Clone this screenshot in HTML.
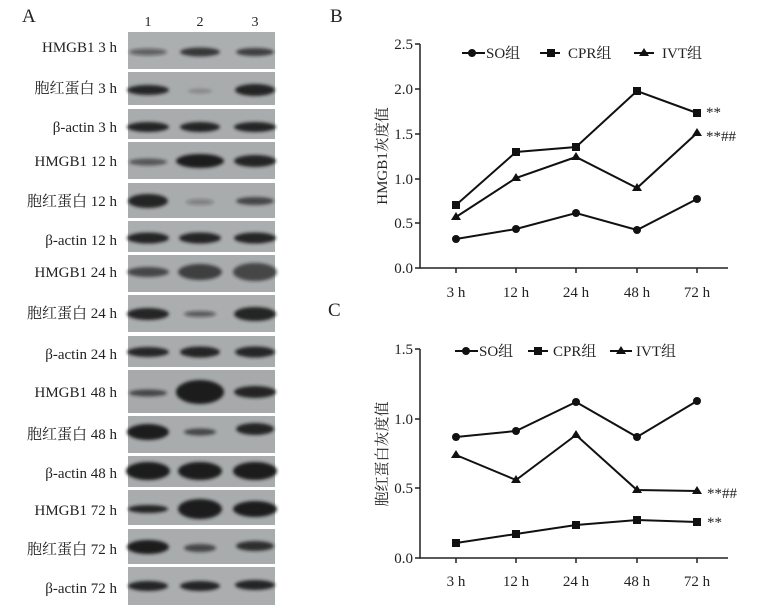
<!DOCTYPE html>
<html><head><meta charset="utf-8"><style>
body{margin:0;background:#fff}
svg{display:block}
text{font-family:"Liberation Serif","Noto Serif CJK SC",serif;fill:#222}
</style></head><body>
<svg width="768" height="612" viewBox="0 0 768 612" xmlns="http://www.w3.org/2000/svg">
<defs><filter id="bl"><feGaussianBlur stdDeviation="1.5"/></filter></defs>
<text x="22" y="22" font-size="19">A</text>
<text x="148" y="26" font-size="14" text-anchor="middle">1</text>
<text x="200" y="26" font-size="14" text-anchor="middle">2</text>
<text x="255" y="26" font-size="14" text-anchor="middle">3</text>
<g font-size="15" text-anchor="end">
<rect x="128" y="32" width="147" height="37" fill="#acafb0"/>
<text x="117" y="52">HMGB1 3 h</text>
<rect x="128" y="72" width="147" height="33" fill="#a9acad"/>
<text x="117" y="93">胞红蛋白 3 h</text>
<rect x="128" y="109" width="147" height="30" fill="#a9acad"/>
<text x="117" y="132">β-actin 3 h</text>
<rect x="128" y="142" width="147" height="37" fill="#a9acad"/>
<text x="117" y="166">HMGB1 12 h</text>
<rect x="128" y="183" width="147" height="35" fill="#a9acad"/>
<text x="117" y="206">胞红蛋白 12 h</text>
<rect x="128" y="221" width="147" height="31" fill="#abaeaf"/>
<text x="117" y="245">β-actin 12 h</text>
<rect x="128" y="255" width="147" height="37" fill="#a9acad"/>
<text x="117" y="277">HMGB1 24 h</text>
<rect x="128" y="295" width="147" height="37" fill="#abaeaf"/>
<text x="117" y="318">胞红蛋白 24 h</text>
<rect x="128" y="336" width="147" height="31" fill="#a9acad"/>
<text x="117" y="359">β-actin 24 h</text>
<rect x="128" y="370" width="147" height="43" fill="#a7aaab"/>
<text x="117" y="397">HMGB1 48 h</text>
<rect x="128" y="416" width="147" height="37" fill="#a9acad"/>
<text x="117" y="439">胞红蛋白 48 h</text>
<rect x="128" y="456" width="147" height="31" fill="#a9acad"/>
<text x="117" y="478">β-actin 48 h</text>
<rect x="128" y="490" width="147" height="35" fill="#a9acad"/>
<text x="117" y="515">HMGB1 72 h</text>
<rect x="128" y="529" width="147" height="35" fill="#a9acad"/>
<text x="117" y="554">胞红蛋白 72 h</text>
<rect x="128" y="567" width="147" height="38" fill="#abaeaf"/>
<text x="117" y="593">β-actin 72 h</text>
</g>
<g fill="#1a1a1a" filter="url(#bl)">
<ellipse cx="148" cy="52" rx="19" ry="3.5" opacity=".5"/><ellipse cx="200" cy="52" rx="20" ry="4.5" opacity=".8"/><ellipse cx="255" cy="52" rx="19" ry="4" opacity=".75"/>
<ellipse cx="148" cy="90" rx="21" ry="5" opacity=".9"/><ellipse cx="200" cy="91" rx="12" ry="2.5" opacity=".2"/><ellipse cx="255" cy="90" rx="20" ry="6" opacity=".95"/>
<ellipse cx="148" cy="127" rx="21" ry="5" opacity=".95"/><ellipse cx="200" cy="127" rx="20" ry="5" opacity=".95"/><ellipse cx="255" cy="127" rx="21" ry="5" opacity=".95"/>
<ellipse cx="148" cy="162" rx="19" ry="3.5" opacity=".6"/><ellipse cx="200" cy="161" rx="24" ry="7" opacity="1"/><ellipse cx="255" cy="161" rx="21" ry="6" opacity=".95"/>
<ellipse cx="148" cy="201" rx="20" ry="7" opacity=".95"/><ellipse cx="200" cy="202" rx="14" ry="3" opacity=".3"/><ellipse cx="255" cy="201" rx="19" ry="4" opacity=".7"/>
<ellipse cx="148" cy="238" rx="21" ry="5.5" opacity=".95"/><ellipse cx="200" cy="238" rx="21" ry="5.5" opacity=".95"/><ellipse cx="255" cy="238" rx="21" ry="5.5" opacity=".95"/>
<ellipse cx="148" cy="272" rx="21" ry="5" opacity=".7"/><ellipse cx="200" cy="272" rx="22" ry="8" opacity=".75"/><ellipse cx="255" cy="272" rx="22" ry="9" opacity=".7"/>
<ellipse cx="148" cy="314" rx="21" ry="6" opacity=".95"/><ellipse cx="200" cy="314" rx="16" ry="3" opacity=".55"/><ellipse cx="255" cy="314" rx="21" ry="7" opacity=".95"/>
<ellipse cx="148" cy="352" rx="21" ry="5" opacity=".9"/><ellipse cx="200" cy="352" rx="20" ry="5.5" opacity=".95"/><ellipse cx="255" cy="352" rx="20" ry="5.5" opacity=".9"/>
<ellipse cx="148" cy="393" rx="19" ry="3.5" opacity=".7"/><ellipse cx="200" cy="392" rx="24" ry="12" opacity="1"/><ellipse cx="255" cy="392" rx="21" ry="6" opacity=".95"/>
<ellipse cx="148" cy="432" rx="21" ry="8" opacity="1"/><ellipse cx="200" cy="432" rx="16" ry="3.5" opacity=".7"/><ellipse cx="255" cy="429" rx="19" ry="6" opacity=".95"/>
<ellipse cx="148" cy="471" rx="22" ry="9" opacity="1"/><ellipse cx="200" cy="471" rx="22" ry="9" opacity="1"/><ellipse cx="255" cy="471" rx="22" ry="9" opacity="1"/>
<ellipse cx="148" cy="509" rx="20" ry="4" opacity=".95"/><ellipse cx="200" cy="509" rx="22" ry="10" opacity="1"/><ellipse cx="255" cy="509" rx="22" ry="8" opacity="1"/>
<ellipse cx="148" cy="547" rx="21" ry="7" opacity="1"/><ellipse cx="200" cy="548" rx="16" ry="4" opacity=".7"/><ellipse cx="255" cy="546" rx="19" ry="5" opacity=".85"/>
<ellipse cx="148" cy="586" rx="20" ry="5" opacity=".95"/><ellipse cx="200" cy="586" rx="20" ry="5" opacity=".95"/><ellipse cx="255" cy="585" rx="20" ry="5" opacity=".95"/>
</g>

<!-- Chart B -->
<text x="330" y="22" font-size="19">B</text>
<g stroke="#222" stroke-width="1.5" fill="none">
<path d="M420 44V268H728"/>
<path d="M415 44H420M415 89H420M415 134H420M415 179H420M415 223H420M415 268H420"/>
<path d="M456 268V273M516 268V273M576 268V273M637 268V273M697 268V273"/>
</g>
<g font-size="15" text-anchor="end">
<text x="413" y="49">2.5</text><text x="413" y="94">2.0</text><text x="413" y="139">1.5</text><text x="413" y="184">1.0</text><text x="413" y="228">0.5</text><text x="413" y="273">0.0</text>
</g>
<g font-size="15" text-anchor="middle">
<text x="456" y="297">3 h</text><text x="516" y="297">12 h</text><text x="576" y="297">24 h</text><text x="637" y="297">48 h</text><text x="697" y="297">72 h</text>
</g>
<text transform="translate(387 156) rotate(-90)" font-size="15" text-anchor="middle">HMGB1灰度值</text>
<g stroke="#111" stroke-width="2" fill="none">
<polyline points="456,239 516,229 576,213 637,230 697,199"/>
<polyline points="456,205 516,152 576,147 637,91 697,113"/>
<polyline points="456,217 516,178 576,157 637,188 697,133"/>
<path d="M462 53H485M540 53H560M634 53H654"/>
</g>
<g fill="#111">
<circle cx="456" cy="239" r="4"/><circle cx="516" cy="229" r="4"/><circle cx="576" cy="213" r="4"/><circle cx="637" cy="230" r="4"/><circle cx="697" cy="199" r="4"/>
<rect x="452" y="201" width="8" height="8"/><rect x="512" y="148" width="8" height="8"/><rect x="572" y="143" width="8" height="8"/><rect x="633" y="87" width="8" height="8"/><rect x="693" y="109" width="8" height="8"/>
<path d="M456 212l5 8h-10zM516 173l5 8h-10zM576 152l5 8h-10zM637 183l5 8h-10zM697 128l5 8h-10z"/>
<circle cx="472" cy="53" r="4"/><rect x="547" y="49" width="8" height="8"/><path d="M644 48l5 8h-10z"/>
</g>
<g font-size="15">
<text x="486" y="58">SO组</text><text x="568" y="58">CPR组</text><text x="662" y="58">IVT组</text>
<text x="706" y="117">**</text><text x="706" y="141">**##</text>
</g>

<!-- Chart C -->
<text x="328" y="316" font-size="19">C</text>
<g stroke="#222" stroke-width="1.5" fill="none">
<path d="M420 349V558H728"/>
<path d="M415 349H420M415 419H420M415 488H420M415 558H420"/>
<path d="M456 558V563M516 558V563M576 558V563M637 558V563M697 558V563"/>
</g>
<g font-size="15" text-anchor="end">
<text x="413" y="354">1.5</text><text x="413" y="424">1.0</text><text x="413" y="493">0.5</text><text x="413" y="563">0.0</text>
</g>
<g font-size="15" text-anchor="middle">
<text x="456" y="586">3 h</text><text x="516" y="586">12 h</text><text x="576" y="586">24 h</text><text x="637" y="586">48 h</text><text x="697" y="586">72 h</text>
</g>
<text transform="translate(387 454) rotate(-90)" font-size="15" text-anchor="middle">胞红蛋白灰度值</text>
<g stroke="#111" stroke-width="2" fill="none">
<polyline points="456,437 516,431 576,402 637,437 697,401"/>
<polyline points="456,543 516,534 576,525 637,520 697,522"/>
<polyline points="456,455 516,480 576,435 637,490 697,491"/>
<path d="M455 351H478M528 351H548M610 351H632"/>
</g>
<g fill="#111">
<circle cx="456" cy="437" r="4"/><circle cx="516" cy="431" r="4"/><circle cx="576" cy="402" r="4"/><circle cx="637" cy="437" r="4"/><circle cx="697" cy="401" r="4"/>
<rect x="452" y="539" width="8" height="8"/><rect x="512" y="530" width="8" height="8"/><rect x="572" y="521" width="8" height="8"/><rect x="633" y="516" width="8" height="8"/><rect x="693" y="518" width="8" height="8"/>
<path d="M456 450l5 8h-10zM516 475l5 8h-10zM576 430l5 8h-10zM637 485l5 8h-10zM697 486l5 8h-10z"/>
<circle cx="466" cy="351" r="4"/><rect x="534" y="347" width="8" height="8"/><path d="M621 346l5 8h-10z"/>
</g>
<g font-size="15">
<text x="479" y="356">SO组</text><text x="553" y="356">CPR组</text><text x="636" y="356">IVT组</text>
<text x="707" y="498">**##</text><text x="707" y="527">**</text>
</g>
</svg>
</body></html>
